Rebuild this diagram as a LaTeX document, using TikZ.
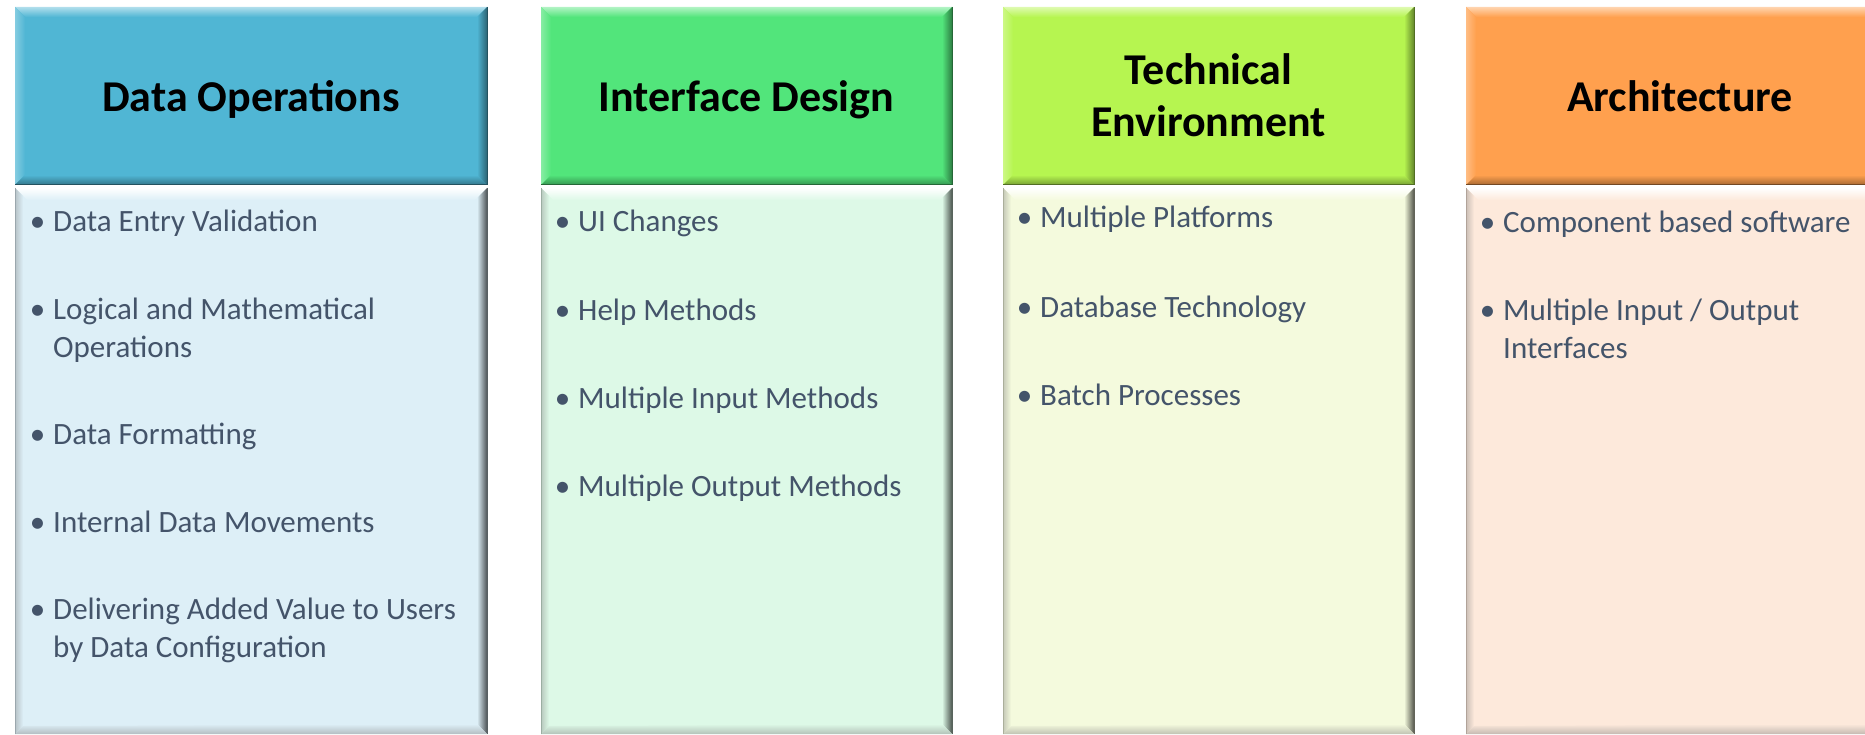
\documentclass[tikz,border=0pt]{standalone}
\usepackage{fontspec}
\setmainfont{Carlito}
\usetikzlibrary{positioning}

\definecolor{opshead}{HTML}{50B6D4}
\definecolor{opsbody}{HTML}{DDEFF7}
\definecolor{uihead}{HTML}{52E57B}
\definecolor{uibody}{HTML}{DDF9E7}
\definecolor{techhead}{HTML}{B6F550}
\definecolor{techbody}{HTML}{F4FADD}
\definecolor{archhead}{HTML}{FFA04E}
\definecolor{archbody}{HTML}{FDE9DB}
\definecolor{slate}{HTML}{44546A}

\tikzset{
  headtext/.style={font=\fontsize{44}{52}\selectfont\bfseries, text=black, align=center, inner sep=0pt},
  bullettext/.style={font=\fontsize{31}{38}\selectfont, text=slate, align=left, anchor=base west, inner sep=0pt},
}

% one column: #1 left edge, #2 right edge, #3 colour prefix
\newcommand{\pillar}[3]{%
  % header block with bevel
  \fill[#3head] (#1,7) rectangle (#2,185);
  \shade[top color=#3head!45!white, bottom color=#3head] (#1,7) -- (#2,7) -- ({#2-10},17) -- ({#1+10},17) -- cycle;
  \shade[left color=#3head!70!white, right color=#3head] (#1,7) -- ({#1+10},17) -- ({#1+10},175) -- (#1,185) -- cycle;
  \shade[top color=#3head, bottom color=#3head!65!black] ({#1+10},175) -- ({#2-10},175) -- (#2,185) -- (#1,185) -- cycle;
  \shade[left color=#3head, right color=#3head!55!black] ({#2-10},17) -- (#2,7) -- (#2,185) -- ({#2-10},175) -- cycle;
  \draw[#3head!45!black, line width=1pt] (#2,7) -- (#2,185) -- (#1,185);
  % body block with bevel
  \fill[#3body] (#1,188) rectangle (#2,734);
  \shade[top color=white, bottom color=#3body] (#1,188) -- (#2,188) -- ({#2-12},200) -- ({#1+12},200) -- cycle;
  \shade[left color=#3body!60!gray, right color=#3body] (#1,188) -- ({#1+8},196) -- ({#1+8},726) -- (#1,734) -- cycle;
  \shade[left color=#3body, right color=#3body!35!black] ({#2-10},198) -- (#2,188) -- (#2,734) -- ({#2-10},724) -- cycle;
  \shade[top color=#3body, bottom color=#3body!55!gray] ({#1+8},726) -- ({#2-10},724) -- (#2,734) -- (#1,734) -- cycle;
  \draw[#3body!40!black, line width=1pt] (#2,188) -- (#2,734);
  \draw[#3body!70!black, line width=0.8pt] (#1,188) -- (#1,734);
}
\newcommand{\bulletmark}{\llap{\textbullet\hspace{8pt}}}

\begin{document}
\begin{tikzpicture}[x=1pt, y=-1pt]
\useasboundingbox (0,0) rectangle (1865,735);
\clip (0,0) rectangle (1865,735);

\pillar{15}{487}{ops}
\pillar{541}{952}{ui}
\pillar{1003}{1414}{tech}
\pillar{1466}{1885}{arch}

% headers
\node[headtext] (hdops) at (251,99) {Data Operations};
\node[headtext] (hdui) at (746.5,100) {Interface Design};
\node[headtext] (hdtech) at (1208.5,95) {Technical\\Environment};
\node[headtext] (hdarch) at (1680,96) {Architecture};

% bullet points (base = last line)
\foreach \y/\t [count=\i] in {232/{Data Entry Validation},
    357/{Logical and Mathematical\\Operations},
    444/{Data Formatting},
    532/{Internal Data Movements},
    657/{Delivering Added Value to Users\\by Data Configuration}}
  \node[bullettext] (ops\i) at (53,\y) {\bulletmark\t};

\foreach \y/\t [count=\i] in {232/{UI Changes}, 320/{Help Methods},
    408/{Multiple Input Methods}, 496/{Multiple Output Methods}}
  \node[bullettext] (ui\i) at (578,\y) {\bulletmark\t};

\foreach \y/\t [count=\i] in {228/{Multiple Platforms}, 317/{Database Technology},
    405/{Batch Processes}}
  \node[bullettext] (tech\i) at (1040,\y) {\bulletmark\t};

\foreach \y/\t [count=\i] in {233/{Component based software},
    358/{Multiple Input / Output\\Interfaces}}
  \node[bullettext] (arch\i) at (1503,\y) {\bulletmark\t};
\end{tikzpicture}
\end{document}
